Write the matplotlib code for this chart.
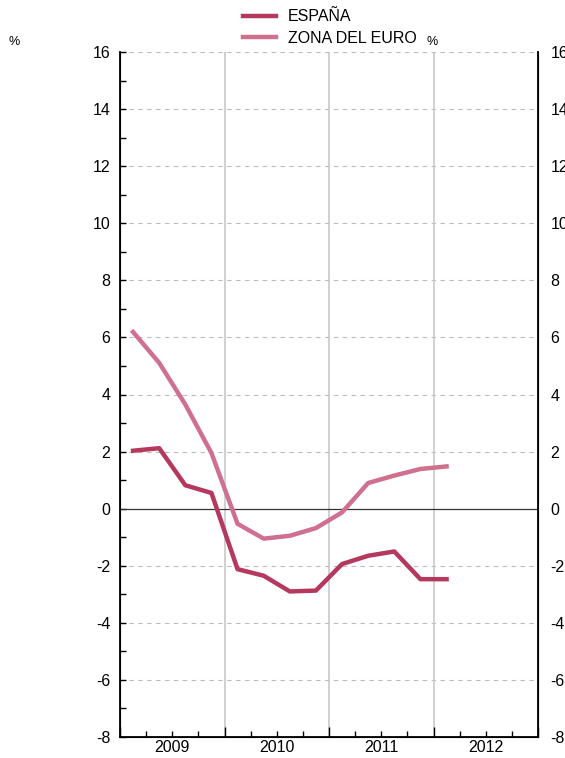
import matplotlib.pyplot as plt
import numpy as np

plt.rcParams['font.family'] = ['Liberation Sans', 'DejaVu Sans']
plt.rcParams['axes.unicode_minus'] = False

# trimestres 2009T1 .. 2012T1
quarters = ['2009T1', '2009T2', '2009T3', '2009T4',
            '2010T1', '2010T2', '2010T3', '2010T4',
            '2011T1', '2011T2', '2011T3', '2011T4', '2012T1']
espana = [2.03, 2.12, 0.82, 0.55, -2.12, -2.35, -2.9, -2.87,
          -1.94, -1.65, -1.5, -2.47, -2.47]
zona_euro = [6.19, 5.11, 3.65, 1.95, -0.53, -1.05, -0.95, -0.68,
             -0.13, 0.9, 1.16, 1.39, 1.48]
years = ['2009', '2010', '2011', '2012']

x = np.array([int(q[:4]) + (int(q[-1]) - 0.5) / 4 for q in quarters])

col_es = '#B5385F'
col_eu = '#D0708F'

fig = plt.figure(figsize=(5.65, 7.58), dpi=100)
ax = fig.add_axes([120 / 565, 21 / 758, 418 / 565, 685 / 758])

ax.set_xlim(2009, 2013)
ax.set_ylim(-8, 16)

# rejilla
for v in range(-8, 17, 2):
    if v != 0:
        ax.axhline(v, color='#bbbbbb', lw=0.8, ls=(0, (4, 4)), zorder=1)
for yr in [2010, 2011, 2012]:
    ax.axvline(yr, color='#c8c8c8', lw=1.2, zorder=1)
ax.axhline(0, color='#333333', lw=0.9, zorder=2)

ax.plot(x, espana, color=col_es, lw=3.2, label='ESPAÑA', zorder=4)
ax.plot(x, zona_euro, color=col_eu, lw=3.2, label='ZONA DEL EURO', zorder=3)

ax.spines['top'].set_visible(False)
for s in ['left', 'right', 'bottom']:
    ax.spines[s].set_linewidth(1.3)

ax.set_yticks(range(-8, 17, 2))
ax.set_yticks(range(-7, 16, 2), minor=True)
ax.tick_params(axis='y', which='both', direction='in', length=4, width=1,
               labelsize=11.5, pad=7, right=True)
ax.set_xticks([2009, 2010, 2011, 2012, 2013])
ax.set_xticklabels([])
ax.set_xticks(np.arange(2009.25, 2013, 0.25), minor=True)
ax.tick_params(axis='x', which='major', direction='in', length=7, width=1)
ax.tick_params(axis='x', which='minor', direction='in', length=4, width=1)
for i, yr in enumerate(years):
    ax.text(2009.5 + i, -8.12, yr, ha='center', va='top', fontsize=11.5)

ax2 = ax.twinx()
ax2.set_ylim(-8, 16)
ax2.set_yticks(range(-8, 17, 2))
ax2.tick_params(axis='y', direction='in', length=0, labelsize=11.5, pad=9)
ax2.spines['top'].set_visible(False)

fig.text(14 / 565, 1 - 42 / 758, '%', ha='center', va='center', fontsize=9)
fig.text(432 / 565, 1 - 42 / 758, '%', ha='center', va='center', fontsize=9)

leg = fig.legend(loc='upper left', bbox_to_anchor=(232 / 565, 1.0024),
                 frameon=False, fontsize=11.5, handlelength=2.05,
                 handletextpad=0.75, labelspacing=0.42, borderpad=0.2)

fig.savefig('out.png', dpi=100)
